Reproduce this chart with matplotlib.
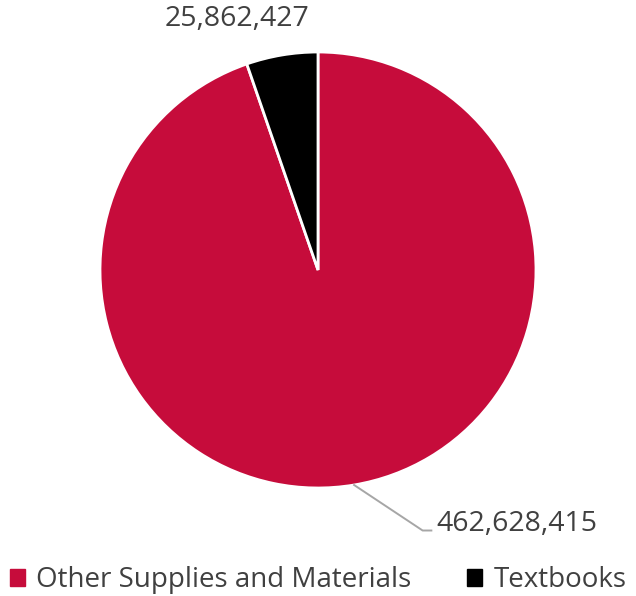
import numpy as np
import matplotlib.pyplot as plt

categories = ["Other Supplies and Materials", "Textbooks"]
values = [462628415, 25862427]
colors = ["#C60C3B", "#000000"]

plt.rcParams["font.family"] = ["Open Sans", "DejaVu Sans"]
text_color = "#404040"

fig = plt.figure(figsize=(6.36, 5.96), dpi=100)
W, H = 636, 596
cx, cy, r = 318, 270, 218
ax = fig.add_axes([(cx - r) / W, (H - cy - r) / H, 2 * r / W, 2 * r / H])
wedges, _ = ax.pie(values, colors=colors, startangle=90, counterclock=False,
                   wedgeprops=dict(edgecolor="white", linewidth=2), radius=1)
ax.set_xlim(-1, 1)
ax.set_ylim(-1, 1)
ax.set_aspect("equal")
ax.axis("off")

# label for the big slice with a leader line
w = wedges[0]
mid = np.deg2rad((w.theta1 + w.theta2) / 2)
x0, y0 = np.cos(mid), np.sin(mid)
ax.plot([x0, 0.48, 0.52], [y0, -1.195, -1.195], color="#A6A6A6", lw=1.4,
        clip_on=False)
ax.text(0.545, -1.165, f"{values[0]:,}", ha="left", va="center",
        fontsize=20.5, color=text_color, clip_on=False)

# label for the small slice
ax.text(-0.37, 1.15, f"{values[1]:,}", ha="center", va="center",
        fontsize=20.5, color=text_color, clip_on=False)

handles = [plt.Rectangle((0, 0), 1, 1, color=c) for c in colors]
fig.legend(handles, categories, loc="center", bbox_to_anchor=(0.5, 1 - 580 / H),
           ncol=2, frameon=False, fontsize=20, labelcolor=text_color,
           handlelength=0.55, handleheight=0.55, handletextpad=0.4,
           columnspacing=2.0)

fig.savefig("out.png", dpi=100)
